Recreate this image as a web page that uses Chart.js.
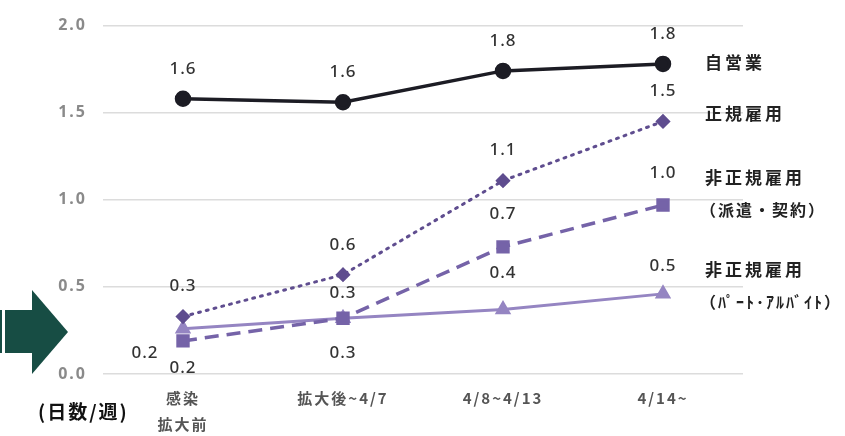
<!DOCTYPE html>
<html>
<head>
<meta charset="utf-8">
<script src="https://cdn.jsdelivr.net/npm/chart.js@4"></script>
<style>
  html, body { margin: 0; padding: 0; background: #fff; }
  #wrap { width: 845px; height: 436px; position: relative; }
</style>
</head>
<body>
<div id="wrap"><canvas id="grafico" width="845" height="436"></canvas></div>
<script>
const categorias = [['感染', '拡大前'], '拡大後~4/7', '4/8~4/13', '4/14~'];
const jieigyo = [1.58, 1.56, 1.74, 1.78];
const seiki = [0.33, 0.57, 1.11, 1.45];
const haken = [0.19, 0.32, 0.73, 0.97];
const paato = [0.26, 0.32, 0.37, 0.46];
const rotulosJieigyo = ['1.6', '1.6', '1.8', '1.8'];
const rotulosSeiki = ['0.3', '0.6', '1.1', '1.5'];
const rotulosHaken = ['0.2', '0.3', '0.7', '1.0'];
const rotulosPaato = ['0.2', '0.3', '0.4', '0.5'];
const nomesSeries = [['自営業'], ['正規雇用'], ['非正規雇用', '（派遣・契約）'], ['非正規雇用', '（ﾊﾟｰﾄ･ｱﾙﾊﾞｲﾄ）']];

// posicao dos rotulos: [dx, dy] em relacao ao ponto
const posJieigyo = [[0, -30], [0, -30], [0, -30], [0, -30]];
const posSeiki = [[0, -30], [0, -30], [0, -30], [0, -30]];
const posHaken = [[-38, 12], [0, -25], [0, -33], [0, -32]];
const posPaato = [[0, 39], [0, 35], [0, -36], [0, -28]];

const fonteNum = '"Noto Sans", "DejaVu Sans", sans-serif';
const fonteJp = '"Noto Sans CJK JP", sans-serif';

const pluginRotulos = {
    id: 'rotulos',
    beforeUpdate(chart) {
        chart.ctx.letterSpacing = '2px';
    },
    beforeDraw(chart) {
        chart.ctx.letterSpacing = '2px';
    },
    afterDatasetsDraw(chart) {
        const ctx = chart.ctx;
        ctx.save();
        ctx.fillStyle = '#333';
        ctx.font = '500 17px ' + fonteNum;
        ctx.letterSpacing = '1px';
        ctx.textAlign = 'center';
        ctx.textBaseline = 'middle';
        chart.data.datasets.forEach((ds, i) => {
            const meta = chart.getDatasetMeta(i);
            meta.data.forEach((pt, j) => {
                const [dx, dy] = ds.posRotulos[j];
                ctx.fillText(ds.rotulos[j], pt.x + dx, pt.y + dy);
            });
            // nome da serie a direita
            ctx.save();
            ctx.fillStyle = '#222';
            ctx.textAlign = 'left';
            ds.nome.forEach((linha, k) => {
                if (k === 0) {
                    ctx.font = 'bold 17px ' + fonteJp;
                    ctx.letterSpacing = '3px';
                    ctx.fillText(linha, 705, ds.nomeY);
                } else {
                    ctx.font = 'bold 16px ' + fonteJp;
                    ctx.letterSpacing = '2px';
                    ctx.fillText(linha, 700, ds.nomeY + 32);
                }
            });
            ctx.restore();
        });
        ctx.restore();
    },
    afterDraw(chart) {
        const ctx = chart.ctx;
        ctx.save();
        // seta verde
        ctx.fillStyle = '#174d44';
        ctx.fillRect(0, 310, 2, 43);
        ctx.fillRect(5, 310, 28, 43);
        ctx.beginPath();
        ctx.moveTo(32, 290);
        ctx.lineTo(68, 332);
        ctx.lineTo(32, 374);
        ctx.closePath();
        ctx.fill();
        // unidade
        ctx.fillStyle = '#111';
        ctx.font = 'bold 19px ' + fonteJp;
        ctx.letterSpacing = '2px';
        ctx.textBaseline = 'middle';
        ctx.fillText('(日数/週)', 38, 412);
        ctx.restore();
    }
};

const ctxGrafico = document.getElementById('grafico').getContext('2d');
new Chart(ctxGrafico, {
    type: 'line',
    data: {
        labels: categorias,
        datasets: [
            {
                label: '自営業',
                data: jieigyo,
                rotulos: rotulosJieigyo,
                posRotulos: posJieigyo,
                nome: nomesSeries[0],
                nomeY: 63,
                borderColor: '#1c1c24',
                backgroundColor: '#1c1c24',
                borderWidth: 3.5,
                pointStyle: 'circle',
                pointRadius: 6.5
            },
            {
                label: '正規雇用',
                data: seiki,
                rotulos: rotulosSeiki,
                posRotulos: posSeiki,
                nome: nomesSeries[1],
                nomeY: 114,
                borderColor: '#5f4d8f',
                backgroundColor: '#5f4d8f',
                borderWidth: 3,
                borderDash: [2, 6],
                borderCapStyle: 'round',
                pointStyle: 'rectRot',
                pointRadius: 5.5
            },
            {
                label: '非正規雇用（派遣・契約）',
                data: haken,
                rotulos: rotulosHaken,
                posRotulos: posHaken,
                nome: nomesSeries[2],
                nomeY: 178,
                borderColor: '#7563a8',
                backgroundColor: '#7563a8',
                borderWidth: 3.5,
                borderDash: [14, 8],
                pointStyle: 'rect',
                pointRadius: 7
            },
            {
                label: '非正規雇用（パート・アルバイト）',
                data: paato,
                rotulos: rotulosPaato,
                posRotulos: posPaato,
                nome: nomesSeries[3],
                nomeY: 270,
                borderColor: '#9585c2',
                backgroundColor: '#9585c2',
                borderWidth: 3,
                pointStyle: 'triangle',
                pointRadius: 6.5
            }
        ]
    },
    options: {
        responsive: false,
        animation: false,
        layout: { padding: { top: 18, right: 102, left: 0, bottom: 0 } },
        plugins: {
            legend: { display: false },
            tooltip: { enabled: false }
        },
        scales: {
            x: {
                offset: true,
                grid: { display: false },
                border: { display: false },
                ticks: {
                    color: '#555',
                    font: { family: fonteJp, size: 15, weight: 'bold', lineHeight: 1.75 },
                    padding: 3,
                    maxRotation: 0
                },
                afterFit(axis) { axis.height = 62; }
            },
            y: {
                min: 0,
                max: 2,
                grid: { color: '#dcdcdc', lineWidth: 1.5, drawTicks: false },
                border: { display: false },
                ticks: {
                    stepSize: 0.5,
                    color: '#8a8a8a',
                    padding: 16,
                    font: { family: fonteNum, size: 16, weight: 'bold' },
                    callback: v => v.toFixed(1)
                },
                afterFit(axis) { axis.width = 103; }
            }
        }
    },
    plugins: [pluginRotulos]
});
</script>
</body>
</html>
